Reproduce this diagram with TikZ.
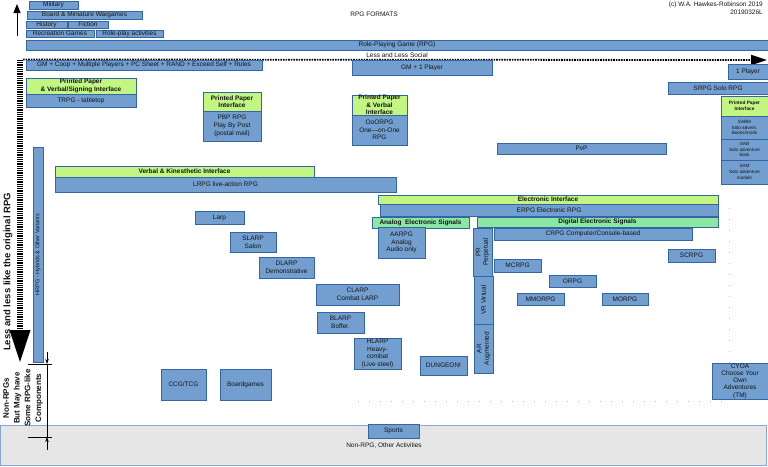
\documentclass[tikz,border=0pt]{standalone}
\usepackage{fontspec}
\setmainfont{Liberation Sans}
\usetikzlibrary{arrows.meta}
\definecolor{boxblue}{HTML}{729FCF}
\definecolor{boxline}{HTML}{3465A4}
\definecolor{pplime}{HTML}{C2F582}
\definecolor{ppmint}{HTML}{8AE8A2}
\definecolor{txt}{HTML}{141414}
\definecolor{grayarea}{HTML}{E6E6E6}
\definecolor{grayline}{HTML}{8AA6D0}
\newcommand\rbox[7][]{\node[bx,#1,minimum width={(#5-#3)*1pt},minimum height={(#6-#4)*1pt}] (#2) at ({(#3+#5)/2},{(#4+#6)/2}) {#7};}
\tikzset{
  bx/.style={draw=boxline, fill=boxblue, line width=0.7pt, inner sep=0pt, outer sep=0pt,
    align=center, text=txt, font=\fontsize{6.5}{7.6}\selectfont},
  gr/.style={fill=pplime, font=\fontsize{6.5}{7.4}\selectfont\bfseries},
  mn/.style={fill=ppmint, font=\fontsize{6.5}{7.4}\selectfont\bfseries},
  small/.style={font=\fontsize{4.6}{5.6}\selectfont},
  smallb/.style={font=\fontsize{4.8}{5.8}\selectfont\bfseries},
  lbl/.style={inner sep=0pt, text=txt, font=\fontsize{6.5}{7.6}\selectfont},
  faint/.style={gray!55, line width=0.6pt, dash pattern=on 0.6pt off 10.4pt},
}
\begin{document}
\begin{tikzpicture}[x=1pt,y=-1pt]
\useasboundingbox (0,0) rectangle (768,466);
% bottom gray area
\node[draw=grayline, fill=grayarea, line width=0.7pt, minimum width=766pt, minimum height=40pt, inner sep=0pt] (area) at (383.5,445.5) {};
% faint dotted guides
\coordinate (fh1) at (358,401); \coordinate (fh2) at (725,401);
\coordinate (fv1) at (729,208); \coordinate (fv2) at (729,400);
\draw[faint] (fh1) -- (fh2);
\draw[faint] (fv1) -- (fv2);
% texts
\node[lbl] (title) at (374,14) {RPG FORMATS};
\node[lbl, align=right, anchor=north east] (copy) at (763,1.5) {(c) W.A. Hawkes-Robinson 2019\\20190326L};
\node[lbl] (social) at (397,55) {Less and Less Social};
% top arrow
\coordinate (upA) at (17,36); \coordinate (upB) at (17,4);
\draw[line width=1pt, -{Triangle[length=9pt,width=7pt]}] (upA) -- (upB);
% top stack
\rbox{mil}{29}{1}{78}{9}{Military}
\rbox{bmw}{27}{11}{142}{19}{Board \& Miniature Wargames}
\rbox{his}{26}{21}{67}{28}{History}
\rbox{fic}{68}{21}{108}{28}{Fiction}
\rbox{rec}{26}{30}{94}{37}{Recreation Games}
\rbox{rpa}{96}{30}{163}{37}{Role-play activities}
\rbox{rpg}{26}{40}{768}{50}{Role-Playing Game (RPG)}
% dotted social arrow
\coordinate (soA) at (23,59.5); \coordinate (soB) at (767,60);
\draw[line width=1.8pt, dash pattern=on 1.6pt off 1pt, -{Triangle[length=16pt,width=10pt]}] (soA) -- (soB);
% left ladder arrow
\coordinate (laA) at (20,60); \coordinate (laB) at (20,331);
\draw[line width=6pt, dash pattern=on 0.9pt off 0.9pt] (laA) -- (laB);
\fill (9.5,330) -- (30.5,330) -- (20,362) -- cycle;
\node[rotate=90, inner sep=0pt, text=txt, font=\fontsize{9.5}{11}\selectfont\bfseries] (less) at (8,272) {Less and less like the original RPG};
\node[rotate=90, inner sep=0pt, align=center, text=txt, font=\fontsize{8}{10.7}\selectfont\bfseries] (nonrpg) at (23,398) {Non-RPGs\\But May have\\Some RPG-like\\Components};
% dimension marker
\coordinate (dmA) at (47,352); \coordinate (dmB) at (47,364);
\coordinate (dmC) at (47,437); \coordinate (dmD) at (47,450);
\coordinate (t1a) at (28,364); \coordinate (t1b) at (52,364);
\coordinate (t2a) at (28,437); \coordinate (t2b) at (52,437);
\draw[line width=0.6pt, -{Stealth[length=5pt,width=3.5pt]}] (dmA) -- (dmB);
\draw[line width=0.6pt] (dmB) -- (dmC);
\draw[line width=0.6pt, -{Stealth[length=5pt,width=3.5pt]}] (dmD) -- (dmC);
\draw[line width=0.6pt] (t1a) -- (t1b);
\draw[line width=0.6pt] (t2a) -- (t2b);
% HRPG bar
\node[bx, rotate=90, minimum width=215pt, minimum height=10pt, font=\fontsize{5.5}{6}\selectfont] (hrpg) at (38,254.5) {HRPG - Hybrids \& Other Variants};
% rows
\rbox{gm}{26}{60}{262}{70}{GM + Coop + Multiple Players + PC Sheet + RAND + Exceed Self + Rules}
\rbox{gm1}{352}{60}{492}{75}{GM + 1 Player}
\rbox{one}{728}{64}{768}{79}{1 Player}
\rbox{srpg}{668}{82}{768}{94}{SRPG Solo RPG}
\rbox[gr]{ppv}{26}{78}{136}{94}{Printed Paper\\\& Verbal/Signing Interface}
\rbox{trpg}{26}{94}{136}{107}{TRPG - tabletop}
\rbox[gr]{ppi}{203}{92}{261}{111}{Printed Paper\\Interface}
\rbox{pbp}{203}{111}{261}{141}{PBP RPG\\Play By Post\\(postal mail)}
\rbox[gr]{ppvi}{352}{95}{407}{115}{Printed Paper\\\& Verbal\\Interface}
\rbox{oo}{352}{115}{407}{145}{OoORPG\\One—on-One\\RPG}
\rbox{pvp}{497}{143}{666}{154}{PvP}
\rbox[gr,smallb]{ppr}{721}{96}{768}{116}{Printed Paper\\Interface}
\rbox[small]{sabm}{721}{116}{768}{139}{SABM\\Solo advent.\\Books/mods}
\rbox[small]{sab}{721}{139}{768}{160}{SAB\\Solo adventure\\book}
\rbox[small]{sam}{721}{160}{768}{184}{SAM\\Solo adventure\\module}
\rbox[gr]{vki}{55}{166}{314}{177}{Verbal \& Kinesthetic Interface}
\rbox{lrpg}{55}{177}{396}{192}{LRPG live-action RPG}
\rbox[gr]{ei}{378}{195}{718}{204}{Electronic Interface}
\rbox{erpg}{380}{204}{718}{216}{ERPG Electronic RPG}
\rbox[mn]{aes}{372}{217}{469}{228}{Analog\ \ Electronic Signals}
\rbox[mn]{des}{477}{217}{718}{227}{Digital Electronic Signals}
\rbox{aarpg}{378}{227}{425}{258}{AARPG\\Analog\\Audio only}
\node[bx, rotate=90, minimum width=48pt, minimum height=19pt] (pr) at (482.5,252) {PR\\Perpetual};
\node[bx, rotate=90, minimum width=48pt, minimum height=19pt] (vr) at (483.5,300) {VR Virtual};
\node[bx, rotate=90, minimum width=49pt, minimum height=19pt] (ar) at (483.5,348.5) {AR\\Augmented};
\rbox{crpg}{494}{228}{692}{240}{CRPG Computer/Console-based}
\rbox{scrpg}{668}{249}{715}{262}{SCRPG}
\rbox{mcrpg}{494}{259}{541}{272}{MCRPG}
\rbox{orpg}{549}{275}{596}{287}{ORPG}
\rbox{mmorpg}{517}{293}{564}{305}{MMORPG}
\rbox{morpg}{602}{293}{648}{305}{MORPG}
\rbox{larp}{195}{211}{244}{224}{Larp}
\rbox{slarp}{230}{232}{276}{252}{SLARP\\Salon}
\rbox{dlarp}{259}{257}{314}{278}{DLARP\\Demonstrative}
\rbox{clarp}{316}{284}{399}{305}{CLARP\\Combat LARP}
\rbox{blarp}{317}{312}{364}{333}{BLARP\\Boffer.}
\rbox{hlarp}{354}{338}{401}{369}{HLARP\\Heavy-\\combat\\(Live steel)}
\rbox{dung}{420}{356}{467}{375}{DUNGEON!}
\rbox{ccg}{161}{369}{206}{400}{CCG/TCG}
\rbox{bg}{220}{369}{271}{400}{Boardgames}
\rbox[font=\fontsize{6.5}{7.3}\selectfont]{cyoa}{712}{363}{768}{399}{CYOA\\Choose Your\\Own\\Adventures\\(TM)}
\rbox{sports}{368}{424}{419}{438}{Sports}
\node[lbl] (nonrpgact) at (384,446) {Non-RPG, Other Activities};
\end{tikzpicture}
\end{document}
